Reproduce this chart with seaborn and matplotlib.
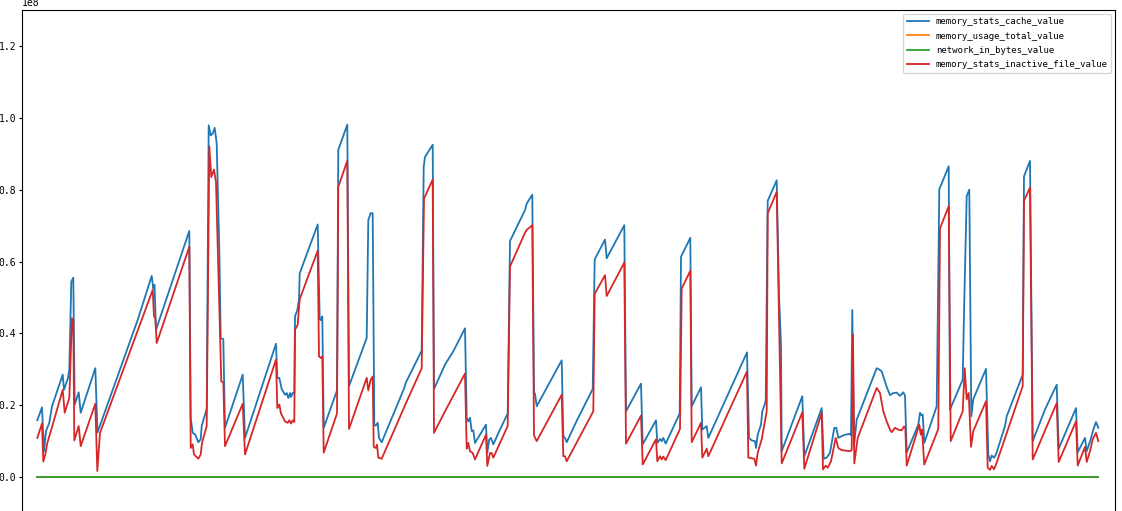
import numpy as np
import pandas as pd
import matplotlib
matplotlib.use("Agg")
import matplotlib.pyplot as plt
import seaborn as sns

# (sample index, value in 1e8)
cache_points = [
    (0, 0.158), (4.7, 0.194), (6.7, 0.072), (8.7, 0.128), (12, 0.151), (14.7, 0.197),
    (25.4, 0.285), (26.7, 0.243), (30.7, 0.276), (32, 0.299), (34, 0.544), (36, 0.555),
    (37.4, 0.202), (41.4, 0.236), (43.4, 0.179), (58, 0.303), (60.2, 0.124), (100.7, 0.44),
    (114.4, 0.56), (116, 0.525), (117.2, 0.535), (118.7, 0.41), (152, 0.685), (153.4, 0.165),
    (155.4, 0.123), (158, 0.118), (161, 0.097), (163.4, 0.105), (164.4, 0.142), (169.4, 0.19),
    (171.4, 0.979), (173.4, 0.951), (175.4, 0.956), (177.4, 0.972), (179.4, 0.928),
    (182, 0.632), (183.4, 0.387), (186, 0.384), (187.7, 0.137), (205.4, 0.285), (207.7, 0.109),
    (238.7, 0.371), (240, 0.276), (242, 0.276), (244.4, 0.245), (247.7, 0.229), (249.4, 0.234),
    (251, 0.22), (252.7, 0.234), (253.7, 0.223), (255.4, 0.234), (257, 0.234), (257.7, 0.447),
    (260, 0.465), (261.7, 0.493), (262.4, 0.567), (280.4, 0.703), (282.4, 0.439),
    (283.7, 0.437), (285, 0.447), (286.4, 0.137), (299.7, 0.241), (301, 0.911), (310, 0.981),
    (311.7, 0.253), (329.4, 0.387), (331, 0.715), (333.4, 0.735), (335.4, 0.734), (337, 0.146),
    (338.4, 0.143), (340.4, 0.151), (341.7, 0.109), (344.4, 0.097), (367, 0.248),
    (368.4, 0.262), (384.4, 0.352), (386.4, 0.863), (387.7, 0.891), (395.4, 0.925),
    (396.7, 0.245), (407.7, 0.313), (416, 0.35), (427.7, 0.414), (429.4, 0.165), (431, 0.155),
    (432.7, 0.165), (434.4, 0.128), (436, 0.13), (437.7, 0.095), (448.7, 0.146), (450, 0.068),
    (452, 0.105), (453.7, 0.109), (456, 0.091), (462, 0.128), (470.4, 0.177), (472.7, 0.657),
    (487.7, 0.743), (489.4, 0.761), (495, 0.786), (496.7, 0.236), (497.7, 0.232),
    (499.4, 0.197), (524.4, 0.325), (526, 0.114), (527.7, 0.109), (529.4, 0.097),
    (537.7, 0.146), (540, 0.16), (555.4, 0.245), (557.4, 0.606), (567.7, 0.661),
    (569.4, 0.609), (587, 0.701), (588.7, 0.183), (603.7, 0.26), (605.4, 0.091),
    (618.7, 0.158), (620, 0.095), (622.7, 0.106), (624.4, 0.1), (626, 0.109), (628.4, 0.093),
    (641, 0.169), (642.4, 0.177), (643.7, 0.613), (653, 0.666), (654.4, 0.197), (663.7, 0.25),
    (665, 0.132), (669.4, 0.142), (671, 0.109), (709.7, 0.347), (711.7, 0.109), (714.4, 0.102),
    (717.7, 0.1), (718.7, 0.081), (720.4, 0.118), (723.7, 0.146), (725, 0.183), (728.4, 0.211),
    (730.4, 0.769), (739.4, 0.826), (741.7, 0.507), (743.7, 0.368), (744.4, 0.072),
    (765, 0.225), (767, 0.058), (784.4, 0.192), (786.4, 0.051), (789.4, 0.054), (792.7, 0.068),
    (797, 0.137), (799, 0.137), (801, 0.109), (804.4, 0.114), (807.7, 0.118), (812.7, 0.12),
    (813.7, 0.116), (815, 0.465), (816.7, 0.086), (819.4, 0.16), (839.4, 0.303), (841.7, 0.3),
    (844.4, 0.294), (849.4, 0.251), (852.7, 0.228), (856, 0.234), (859.4, 0.235),
    (862.7, 0.226), (866, 0.236), (867.7, 0.227), (869.4, 0.068), (881, 0.146), (882.7, 0.179),
    (884, 0.172), (885.4, 0.174), (887, 0.095), (899.4, 0.197), (902, 0.801), (911.4, 0.865),
    (912.7, 0.188), (925.4, 0.271), (926.7, 0.456), (929.4, 0.782), (932, 0.8), (934, 0.169),
    (936, 0.217), (948.7, 0.301), (951, 0.063), (952.7, 0.044), (954.4, 0.06), (956.7, 0.054),
    (958.7, 0.063), (967.7, 0.142), (969.4, 0.169), (985.4, 0.285), (986.7, 0.837),
    (992.7, 0.88), (995.4, 0.1), (1007.7, 0.188), (1019.4, 0.257), (1021.4, 0.079),
    (1038.7, 0.192), (1040.4, 0.069), (1047.7, 0.109), (1049.4, 0.072), (1053.4, 0.105),
    (1056, 0.132), (1058.7, 0.153), (1061, 0.137),
]

inactive_points = [
    (0, 0.109), (4.7, 0.149), (6, 0.043), (8, 0.063), (10, 0.095), (14, 0.132), (25.4, 0.243),
    (27.4, 0.179), (32, 0.22), (34.7, 0.442), (36, 0.438), (37, 0.102), (41.4, 0.142),
    (43.4, 0.086), (58, 0.204), (60, 0.017), (62.7, 0.123), (100.7, 0.41), (115.4, 0.521),
    (116.7, 0.447), (118, 0.442), (119.4, 0.373), (152, 0.641), (153.4, 0.081), (155.4, 0.091),
    (156.7, 0.063), (161, 0.051), (163.4, 0.063), (164.7, 0.095), (169.4, 0.142), (172, 0.92),
    (174, 0.835), (176.7, 0.856), (178.7, 0.821), (184, 0.266), (186, 0.264), (187.7, 0.086),
    (205.4, 0.204), (207.7, 0.063), (238.7, 0.327), (240, 0.192), (242, 0.202), (243.7, 0.177),
    (247.7, 0.155), (250.4, 0.151), (252, 0.158), (253.7, 0.149), (255.4, 0.158), (257, 0.153),
    (257.7, 0.41), (260.4, 0.424), (262.4, 0.495), (280.4, 0.63), (281.7, 0.336),
    (283.7, 0.331), (285, 0.336), (286.4, 0.068), (299.7, 0.177), (301, 0.808), (310, 0.88),
    (311.7, 0.134), (329.4, 0.276), (331, 0.241), (333.4, 0.271), (335.4, 0.28), (336.4, 0.084),
    (338.4, 0.081), (339.7, 0.09), (341, 0.054), (344.4, 0.051), (368.7, 0.206),
    (384.4, 0.303), (386.7, 0.775), (395.4, 0.828), (396.7, 0.123), (407.7, 0.183),
    (427.7, 0.288), (429.4, 0.079), (431, 0.095), (432.7, 0.072), (435.4, 0.067),
    (437.7, 0.049), (448.7, 0.118), (450, 0.031), (452.7, 0.067), (454.4, 0.067), (456, 0.054),
    (470.4, 0.142), (472.7, 0.586), (487.7, 0.68), (489.4, 0.688), (495, 0.701),
    (496.7, 0.116), (499.4, 0.1), (524.4, 0.229), (526, 0.058), (527.7, 0.058), (529.4, 0.044),
    (556, 0.183), (557.4, 0.51), (567.7, 0.562), (569.4, 0.504), (587, 0.597), (588.7, 0.093),
    (603.7, 0.171), (605.4, 0.035), (618.7, 0.105), (620, 0.044), (622.7, 0.058),
    (624.4, 0.049), (626, 0.057), (628.4, 0.047), (642.7, 0.134), (644.4, 0.525), (653, 0.574),
    (654.4, 0.097), (663.7, 0.151), (665, 0.054), (669.4, 0.079), (671, 0.058), (709.7, 0.294),
    (711, 0.054), (717, 0.051), (718.7, 0.032), (720.4, 0.068), (724.4, 0.105), (729.4, 0.183),
    (730.4, 0.734), (739.4, 0.794), (744.4, 0.038), (765, 0.18), (767, 0.023), (784.4, 0.179),
    (785.7, 0.021), (788.4, 0.032), (790.4, 0.026), (793.7, 0.044), (798.4, 0.109),
    (801, 0.081), (804.4, 0.075), (812.7, 0.072), (814.4, 0.075), (815.7, 0.396), (817, 0.038),
    (820.4, 0.109), (839.4, 0.248), (842.7, 0.234), (846, 0.183), (849.4, 0.155),
    (852.7, 0.132), (854.4, 0.125), (857.7, 0.137), (861, 0.132), (864.4, 0.13), (866.7, 0.141),
    (868, 0.137), (869.4, 0.032), (882, 0.146), (883.4, 0.118), (884.7, 0.132), (887, 0.035),
    (901, 0.134), (902.7, 0.692), (911.4, 0.754), (913.4, 0.1), (925.4, 0.183), (927.4, 0.303),
    (929.4, 0.216), (931.4, 0.234), (933.7, 0.084), (936, 0.128), (948.7, 0.211),
    (950.4, 0.026), (952.7, 0.02), (954.4, 0.031), (956.7, 0.022), (958.7, 0.035),
    (985.4, 0.253), (986.7, 0.769), (992.7, 0.806), (995.4, 0.049), (1019.4, 0.206),
    (1021.4, 0.042), (1038.7, 0.155), (1040.4, 0.032), (1047.7, 0.084), (1049.4, 0.042),
    (1052.7, 0.072), (1055.4, 0.105), (1058.7, 0.123), (1061, 0.1),
]

# these two sit at ~0 on the 1e8 scale (orange is hidden under green)
usage_total_points = [(0, 0.0), (1061, 0.0)]
network_in_points = [(0, 0.0), (1061, 0.0)]

SCALE = 1e8
series = [
    ("memory_stats_cache_value", cache_points, "#1f77b4"),
    ("memory_usage_total_value", usage_total_points, "#ff7f0e"),
    ("network_in_bytes_value", network_in_points, "#2ca02c"),
    ("memory_stats_inactive_file_value", inactive_points, "#d62728"),
]

plt.rcParams["font.family"] = ["DejaVu Sans Mono"]
plt.rcParams["font.size"] = 7

fig = plt.figure(figsize=(11.22, 5.11), dpi=100)
ax = fig.add_axes([22 / 1122, -2 / 511, 1093 / 1122, 503 / 511])

for name, pts, col in series:
    t, v = zip(*pts)
    sns.lineplot(x=np.array(t), y=np.array(v) * SCALE, color=col, label=name,
                 linewidth=1.3, estimator=None, sort=False, ax=ax)

ax.set_xlim(-15.3, 1077.7)
ax.set_ylim(-0.1e8, 1.3e8)
ax.set_yticks([0, 0.2e8, 0.4e8, 0.6e8, 0.8e8, 1.0e8, 1.2e8])
ax.tick_params(axis="y", length=2.5, pad=1.5, labelsize=7)
# x tick labels sit below the visible crop in the reference
ax.tick_params(axis="x", labelbottom=False)
ax.set_xlabel("")
ax.set_ylabel("")
ax.legend(loc="upper right", fontsize=6.5, handlelength=2.4, borderaxespad=0.4,
          labelspacing=0.6)

fig.savefig("out.png", dpi=100)
